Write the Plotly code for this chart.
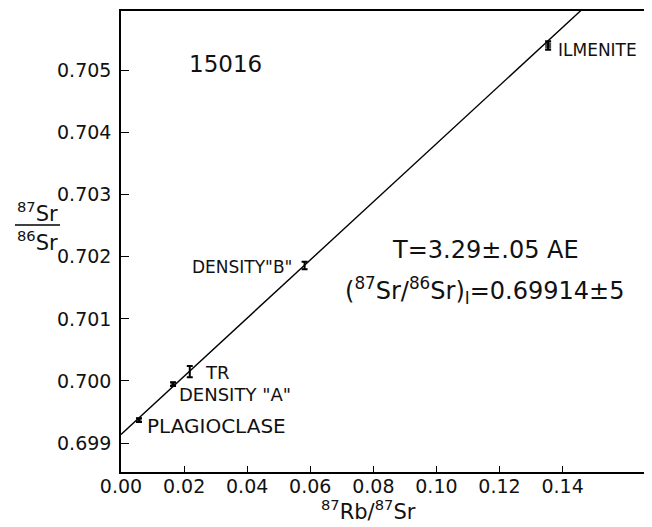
import plotly.graph_objects as go

# ---- data ----
samples = ["PLAGIOCLASE", 'DENSITY "A"', "TR", 'DENSITY"B"', "ILMENITE"]
rb87_sr86 = [0.0057, 0.0165, 0.0218, 0.0582, 0.1354]
sr87_sr86 = [0.69937, 0.69995, 0.70015, 0.70186, 0.70540]
sr_err = [0.00003, 0.00003, 0.00009, 0.00006, 0.00007]
initial_ratio = 0.69914
isochron_slope = 0.0468
x_ticks = [0.00, 0.02, 0.04, 0.06, 0.08, 0.10, 0.12, 0.14]
x_tick_text = ["0.00", "0.02", "0.04", "0.06", "0.08", "0.10", "0.12", "0.14"]
y_ticks = [0.699, 0.700, 0.701, 0.702, 0.703, 0.704, 0.705]
y_tick_text = ["0.699", "0.700", "0.701", "0.702", "0.703", "0.704", "0.705"]

# page has an 8px body margin, so the figure is drawn offset by (8, 8)
OFF = 8
W, H = 652 - OFF, 527 - OFF
L, R, T, B = 121 - OFF, 2, 9 - OFF, 55
PW, PH = W - L - R, H - T - B

def px(x):  # x in reference-page pixels
    return (x - OFF - L) / PW

def py(y):
    return (H - B - (y - OFF)) / PH

FONT = "DejaVu Sans"
INK = "#111111"

fig = go.Figure()

# isochron line
line_x = [0.0, 0.17]
line_y = [initial_ratio + isochron_slope * v for v in line_x]
fig.add_trace(go.Scatter(x=line_x, y=line_y, mode="lines",
                         line=dict(color="black", width=1.4),
                         hoverinfo="skip", showlegend=False))

# data points
fig.add_trace(go.Scatter(
    x=rb87_sr86, y=sr87_sr86, mode="markers",
    marker=dict(symbol="square", size=[5, 5, 0.1, 0.1, 6], color="black",
                line=dict(width=0)),
    error_y=dict(type="data", array=sr_err, visible=True, color="black",
                 thickness=2, width=3),
    text=samples, showlegend=False))

ann = []
def add(text, x, y, size, xanchor="left", yanchor="middle"):
    ann.append(dict(text=text, x=px(x), y=py(y), xref="paper", yref="paper",
                    showarrow=False, xanchor=xanchor, yanchor=yanchor,
                    font=dict(family=FONT, size=size, color=INK)))

add("15016", 225, 62, 23, xanchor="center")
add("ILMENITE", 556, 48, 17)
add('DENSITY"B"', 294, 266, 17, xanchor="right")
add("TR", 203, 372, 18)
add('DENSITY "A"', 177, 394, 18)
add("PLAGIOCLASE", 145, 426, 20)
add("T=3.29±.05 AE", 390, 249, 24)
add("(<sup>87</sup>Sr/<sup>86</sup>Sr)<sub>I</sub>=0.69914±5", 343, 290, 24)
add("<sup>87</sup>Rb/<sup>87</sup>Sr", 368, 510, 21, xanchor="center")
add("<sup>87</sup>Sr", 37, 211, 21, xanchor="center")
add("<sup>86</sup>Sr", 37, 240, 21, xanchor="center")

fig.add_shape(type="line", xref="paper", yref="paper",
              x0=px(15), x1=px(60), y0=py(224), y1=py(224),
              line=dict(color="black", width=1.5))

fig.update_layout(
    width=W, height=H,
    margin=dict(l=L, r=R, t=T, b=B),
    paper_bgcolor="white", plot_bgcolor="white",
    font=dict(family=FONT, color=INK),
    annotations=ann,
    xaxis=dict(range=[0.0, 0.1677], tickvals=x_ticks, ticktext=x_tick_text,
               showgrid=False, zeroline=False, showline=True, linecolor="black",
               linewidth=1.5, mirror=True, ticks="inside", ticklen=6,
               ticklabelstandoff=-4,
               tickcolor="black", tickfont=dict(family=FONT, size=19, color=INK)),
    yaxis=dict(range=[0.698535, 0.705955], tickvals=y_ticks, ticktext=y_tick_text,
               showgrid=False, zeroline=False, showline=True, linecolor="black",
               linewidth=1.5, ticks="inside", ticklen=8, tickcolor="black",
               ticklabelstandoff=4,
               tickfont=dict(family=FONT, size=19, color=INK)),
)

fig.write_html("out.html")
